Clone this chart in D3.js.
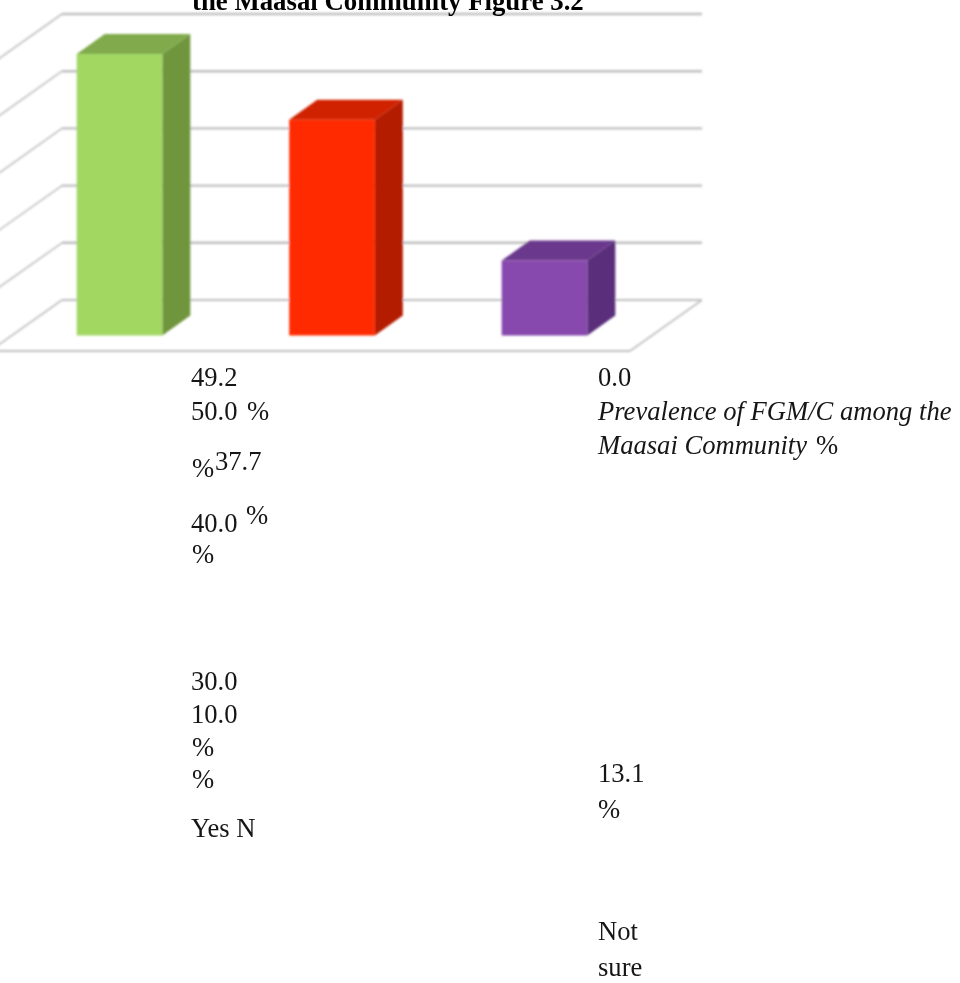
<!DOCTYPE html>
<html>
<head>
<meta charset="utf-8">
<script src="https://cdn.jsdelivr.net/npm/d3@7"></script>
<style>
html,body{margin:0;padding:0;background:#fff;overflow:hidden}
svg{display:block}
text{font-family:"Liberation Serif",serif;font-size:26.6px;fill:#151515}
</style>
</head>
<body>
<svg id="chart" width="960" height="983"></svg>
<script>
// Survey responses on FGM/C prevalence
const categories = ["Yes", "No", "Not sure"];
const percentages = [49.2, 37.7, 13.1];
const gridTicks = [0, 10, 20, 30, 40, 50];
const frontColors = ["#a2d762", "#ff2a00", "#8748ad"];
const sideColors = ["#6f963c", "#b41b00", "#5a2e7a"];
const topColors = ["#80aa4c", "#d02000", "#6b388c"];
const titleText = "the Maasai Community Figure 3.2";

const svg = d3.select("#chart");
const defs = svg.append("defs");
defs.append("filter").attr("id", "soft").attr("x", "-5%").attr("y", "-5%").attr("width", "110%").attr("height", "110%")
  .append("feGaussianBlur").attr("stdDeviation", 0.8);
defs.append("filter").attr("id", "softText").attr("x", "-5%").attr("y", "-5%").attr("width", "110%").attr("height", "110%")
  .append("feGaussianBlur").attr("stdDeviation", 0.3);

// Front-plane value scale and category bands
const y = d3.scaleLinear().domain([0, 50]).range([335.5, 49.5]);
const x = d3.scaleBand().domain(categories).range([76.7, 587.3]).paddingInner(0.597);
const barDepth = { dx: 28, dy: -20 };
const wallDepth = { dx: 0, dy: -35.5 };
const floorRun = { dx: 72, dy: 51 };
const wallLeft = 62, wallRight = 702;

const plot = svg.append("g").attr("filter", "url(#soft)");

// Back wall gridlines with their left wall returns
const grid = plot.append("g").attr("fill", "none").attr("stroke", "#bfbfbf");
const line = d3.line();
gridTicks.forEach(t => {
  const gy = y(t) + wallDepth.dy;
  grid.append("path").attr("stroke-width", t === 0 ? 1.8 : 2.4)
    .attr("d", line([[wallLeft, gy], [wallRight, gy]]));
  grid.append("path").attr("stroke-width", 1.6)
    .attr("d", line([[wallLeft - floorRun.dx, gy + floorRun.dy], [wallLeft, gy]]));
});
// Floor edge
const floorBack = y(0) + wallDepth.dy;
grid.append("path").attr("stroke-width", 1.6)
  .attr("d", line([[wallRight, floorBack], [wallRight - floorRun.dx, floorBack + floorRun.dy]]));
grid.append("path").attr("stroke-width", 2.2)
  .attr("d", line([[wallRight - floorRun.dx, floorBack + floorRun.dy], [wallLeft - floorRun.dx, floorBack + floorRun.dy]]));

// Extruded bars: side, top, then front face
const bars = plot.selectAll("g.bar").data(categories.map((c, i) => ({ c, v: percentages[i], i })))
  .join("g").attr("class", "bar");
bars.append("path").attr("fill", d => sideColors[d.i]).attr("d", d => {
  const r = x(d.c) + x.bandwidth();
  return line([[r, y(d.v)], [r + barDepth.dx, y(d.v) + barDepth.dy], [r + barDepth.dx, y(0) + barDepth.dy], [r, y(0)]]) + "Z";
});
bars.append("path").attr("fill", d => topColors[d.i]).attr("d", d => {
  const l = x(d.c), r = l + x.bandwidth();
  return line([[l, y(d.v)], [l + barDepth.dx, y(d.v) + barDepth.dy], [r + barDepth.dx, y(d.v) + barDepth.dy], [r, y(d.v)]]) + "Z";
});
bars.append("rect").attr("fill", d => frontColors[d.i])
  .attr("x", d => x(d.c)).attr("width", x.bandwidth())
  .attr("y", d => y(d.v)).attr("height", d => y(0) - y(d.v));

// Text runs in their flowed order
const fmt = d3.format(".1f");
const leftX = 191, rightX = 598;
const runs = [
  { s: fmt(percentages[0]), x: leftX, y: 386 },
  { s: fmt(50), x: leftX, y: 420 },
  { s: "%", x: 247, y: 420 },
  { s: "%", x: 192, y: 477 },
  { s: fmt(percentages[1]), x: 215, y: 470 },
  { s: fmt(40), x: leftX, y: 532 },
  { s: "%", x: 246, y: 524 },
  { s: "%", x: 192, y: 563 },
  { s: fmt(30), x: leftX, y: 690 },
  { s: fmt(10), x: leftX, y: 723 },
  { s: "%", x: 192, y: 756 },
  { s: "%", x: 192, y: 788 },
  { s: categories[0] + " N", x: leftX, y: 837 },
  { s: fmt(0), x: rightX, y: 386 },
  { s: "Prevalence of FGM/C among the", x: rightX, y: 420, italic: true },
  { s: "Maasai Community", x: rightX, y: 454, italic: true },
  { s: "%", x: 816, y: 454 },
  { s: fmt(percentages[2]), x: rightX, y: 782 },
  { s: "%", x: rightX, y: 818 },
  { s: "Not", x: rightX, y: 940 },
  { s: "sure", x: rightX, y: 976 }
];
const labels = svg.append("g").attr("filter", "url(#softText)");
labels.selectAll("text").data(runs).join("text")
  .attr("x", d => d.x).attr("y", d => d.y)
  .attr("font-style", d => d.italic ? "italic" : null)
  .text(d => d.s);
labels.append("text").attr("x", 192).attr("y", 10)
  .attr("font-weight", "bold").style("font-size", "26.8px").style("fill", "#000").text(titleText);
</script>
</body>
</html>
